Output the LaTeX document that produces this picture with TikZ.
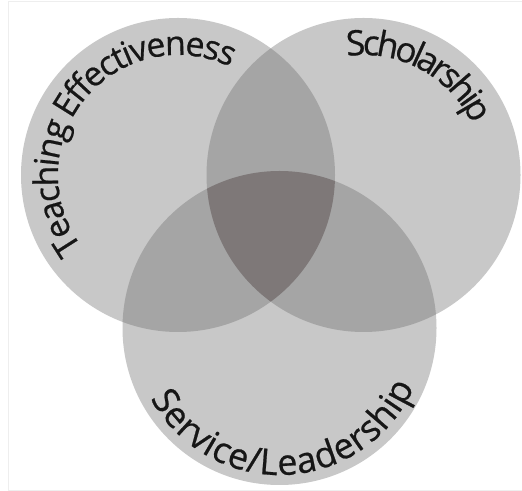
\documentclass[tikz,border=0pt]{standalone}
\usepackage{fontspec}
\setmainfont{Open Sans}
\newfontfamily\lblfam[FakeBold=0.6]{Open Sans}
\usetikzlibrary{calc,decorations.text}
\definecolor{oneC}{HTML}{C8C8C8}
\definecolor{twoC}{HTML}{A5A5A5}
\definecolor{threeC}{HTML}{7E7878}
\definecolor{txtC}{HTML}{161616}
\definecolor{frameC}{HTML}{EEEEEE}
\tikzset{
  arclabel/.style n args={3}{decorate, decoration={text effects along path, text={#3}, text align=center,
    text effects/.cd, characters={text along path, inner sep=0pt, text=txtC, font=\lblfam\fontsize{#1}{40}\selectfont},
    character widths={inner sep=0pt, inner xsep=#2, font=\lblfam\fontsize{#1}{40}\selectfont}}}
}
\begin{document}
\begin{tikzpicture}[x=1bp,y=1bp]
\useasboundingbox (0,0) rectangle (522,491);
\fill[white] (0,0) rectangle (522,491);
\draw[frameC, line width=0.8bp] (530,490) -- (8,490) -- (8,1) -- (530,1);
\coordinate (L) at (178,316);
\coordinate (R) at (363.5,316);
\coordinate (B) at (279.5,163);
\def\rad{157}
\fill[oneC] (L) circle (\rad);
\fill[oneC] (R) circle (\rad);
\fill[oneC] (B) circle (\rad);
\begin{scope}
  \clip (L) circle (\rad);
  \fill[twoC] (R) circle (\rad);
  \fill[twoC] (B) circle (\rad);
\end{scope}
\begin{scope}
  \clip (R) circle (\rad);
  \fill[twoC] (B) circle (\rad);
\end{scope}
\begin{scope}
  \clip (L) circle (\rad);
  \clip (R) circle (\rad);
  \fill[threeC] (B) circle (\rad);
\end{scope}
\path[arclabel={34}{-0.85bp}{Teaching Effectiveness}] ($(L)+(230.5:120)$) arc[start angle=230.5, end angle=50.5, radius=120];
\path[arclabel={35}{-1.8bp}{Scholarship}] ($(R)+(111.5:120)$) arc[start angle=111.5, end angle=11.5, radius=120];
\path[arclabel={36}{0.3bp}{Service/Leadership}] ($(B)+(202.5:147)$) arc[start angle=202.5, end angle=342.5, radius=147];
\end{tikzpicture}
\end{document}
